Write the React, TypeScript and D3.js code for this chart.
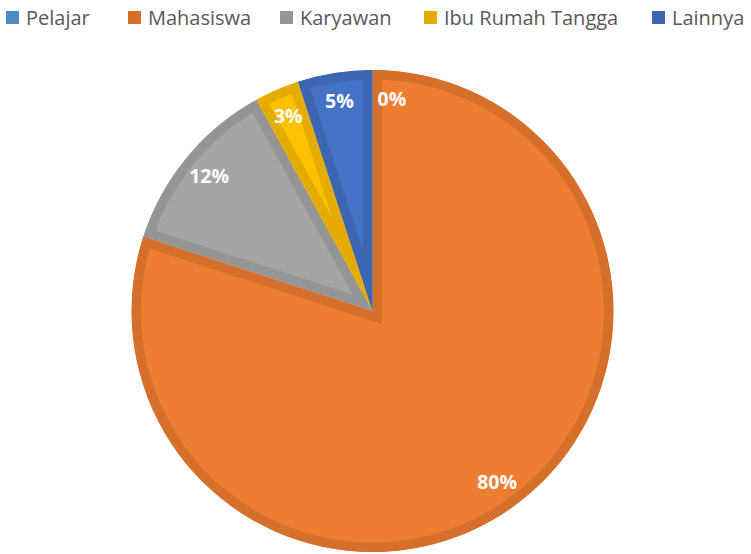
import React from "react";
import * as d3 from "d3";

const categories = ["Pelajar", "Mahasiswa", "Karyawan", "Ibu Rumah Tangga", "Lainnya"];
const values = [0, 80, 12, 3, 5];
const fillColors = ["#5B9BD5", "#ED7D31", "#A5A5A5", "#FFC000", "#4472C4"];
const borderColors = ["#4F8BC4", "#D66F2B", "#959595", "#E5AC00", "#3C66B2"];
const labels = ["0%", "80%", "12%", "3%", "5%"];

const W = 751;
const H = 554;
const cx = 372.5;
const cy = 311;
const R = 241;
const legendX = [6, 128, 280, 424, 652];

export default function App() {
  const pie = d3.pie<number>().sort(null).value((d) => d)(values);
  const arc = d3.arc<d3.PieArcDatum<number>>().innerRadius(0).outerRadius(R);
  const labelArc = d3.arc<d3.PieArcDatum<number>>().innerRadius(212).outerRadius(212);

  return (
    <svg width={W} height={H} style={{ position: "absolute", left: 0, top: 0 }}>
      <rect width={W} height={H} fill="#fff" />
      <defs>
        {pie.map((p, i) => (
          <clipPath id={`clip${i}`} key={i}>
            <path d={arc(p) || ""} transform={`translate(${cx},${cy})`} />
          </clipPath>
        ))}
      </defs>
      <g transform={`translate(${cx},${cy})`}>
        {pie.map((p, i) =>
          p.endAngle - p.startAngle > 0 ? (
            <g key={i} clipPath={`url(#clip${i})`} transform={`translate(${-cx},${-cy})`}>
              <path
                d={arc(p) || ""}
                transform={`translate(${cx},${cy})`}
                fill={fillColors[i]}
                stroke={borderColors[i]}
                strokeWidth={19}
                strokeLinejoin="miter"
              />
            </g>
          ) : null
        )}
        {pie.map((p, i) => {
          const [x, y] = labelArc.centroid(p);
          const zero = p.endAngle - p.startAngle === 0;
          return (
            <text
              key={`l${i}`}
              x={zero ? x + 5 : x}
              y={y}
              dy="0.35em"
              textAnchor={zero ? "start" : "middle"}
              fill="#fff"
              fontFamily="'Open Sans', sans-serif"
              fontWeight="bold"
              fontSize={19.5}
            >
              {labels[i]}
            </text>
          );
        })}
      </g>
      <g>
        {categories.map((c, i) => (
          <g key={c} transform={`translate(${legendX[i]},0)`}>
            <rect x={0} y={11} width={13} height={13} fill={borderColors[i]} />
            <text
              x={20}
              y={25}
              fill="#595959"
              fontFamily="'Open Sans', sans-serif"
              fontSize={20}
            >
              {c}
            </text>
          </g>
        ))}
      </g>
    </svg>
  );
}
